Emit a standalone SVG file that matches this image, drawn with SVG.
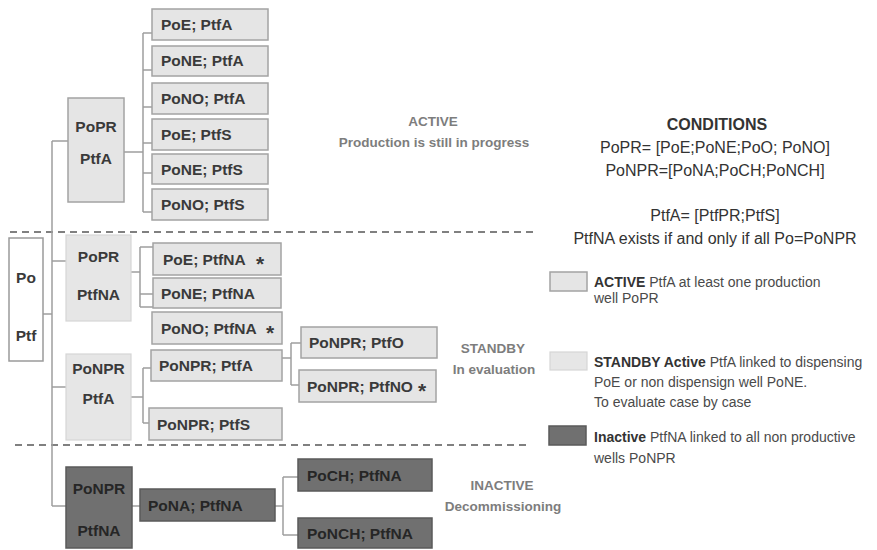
<svg xmlns="http://www.w3.org/2000/svg" width="877" height="550" viewBox="0 0 877 550">
<style>
.bg{fill:#ffffff}
.lt{fill:#e5e5e5;stroke:#a3a3a3;stroke-width:1.5}
.lt2{fill:#e6e6e6;stroke:#d6d6d6;stroke-width:1.2}
.dk{fill:#707070;stroke:#5a5a5a;stroke-width:1.5}
.wh{fill:#ffffff;stroke:#9a9a9a;stroke-width:1.5}
.t{font-family:"Liberation Sans",Arial,sans-serif;font-weight:bold;font-size:15.5px;fill:#3a3a3a}
.td{font-family:"Liberation Sans",Arial,sans-serif;font-weight:bold;font-size:15.5px;fill:#262626}
.tc{text-anchor:middle}
.ast{font-size:21px}
.sec{font-family:"Liberation Sans",Arial,sans-serif;font-weight:bold;font-size:13.5px;fill:#7d7d7d;text-anchor:middle}
.cond{font-family:"Liberation Sans",Arial,sans-serif;font-size:16px;fill:#333;text-anchor:middle}
.leg{font-family:"Liberation Sans",Arial,sans-serif;font-size:14px;fill:#4a4a4a}
.b{font-weight:bold;fill:#333}
.con{fill:none;stroke:#9e9e9e;stroke-width:1.5}
.dash{fill:none;stroke:#808080;stroke-width:2;stroke-dasharray:7 5}
</style>
<rect class="bg" x="0" y="0" width="877" height="550"/>

<g id="separators">
<line class="dash" x1="10" y1="232" x2="533" y2="232"/>
<line class="dash" x1="15" y1="445" x2="529" y2="445"/>
</g>

<g id="connectors">
<path class="con" d="M52 141V506M52 141H68M43 314H52M52 261H66M52 387H66M52 506H66"/>
<path class="con" d="M124 152H143M143 33V212M143 33H152M143 70H152M143 107H152M143 143H152M143 173H152M143 212H152"/>
<path class="con" d="M131 272H140M140 247V307M140 247H153M140 294H153M140 307H153"/>
<path class="con" d="M131 397H143M143 368V423M143 368H151M143 423H149"/>
<path class="con" d="M282 358H291M291 343V385M291 343H301M291 385H299"/>
<path class="con" d="M132 506H140M275 506H283M283 477V535M283 477H298M283 535H298"/>
</g>

<g id="root">
<rect class="wh" x="9" y="238" width="34" height="123"/>
<text class="t tc" x="26" y="283">Po</text>
<text class="t tc" x="26" y="341">Ptf</text>
</g>

<g id="popr-ptfa">
<rect class="lt" x="68" y="98" width="56" height="104"/>
<text class="t tc" x="96" y="132">PoPR</text>
<text class="t tc" x="96" y="164">PtfA</text>
</g>
<g id="poe-ptfa"><rect class="lt" x="152" y="9" width="116" height="31"/><text class="t" x="161" y="30">PoE; PtfA</text></g>
<g id="pone-ptfa"><rect class="lt" x="152" y="46" width="116" height="30"/><text class="t" x="161" y="66">PoNE; PtfA</text></g>
<g id="pono-ptfa"><rect class="lt" x="152" y="83" width="116" height="31"/><text class="t" x="161" y="104">PoNO; PtfA</text></g>
<g id="poe-ptfs"><rect class="lt" x="152" y="119" width="116" height="31"/><text class="t" x="161" y="140">PoE; PtfS</text></g>
<g id="pone-ptfs"><rect class="lt" x="152" y="154" width="116" height="30"/><text class="t" x="161" y="175">PoNE; PtfS</text></g>
<g id="pono-ptfs"><rect class="lt" x="152" y="189" width="116" height="31"/><text class="t" x="161" y="210">PoNO; PtfS</text></g>

<g id="popr-ptfna">
<rect class="lt2" x="66" y="235" width="65" height="86"/>
<text class="t tc" x="98.5" y="262">PoPR</text>
<text class="t tc" x="98.5" y="300">PtfNA</text>
</g>
<g id="poe-ptfna"><rect class="lt" x="153" y="243" width="128" height="32"/><text class="t" x="163" y="265">PoE; PtfNA<tspan class="ast" x="256" dy="6">*</tspan></text></g>
<g id="pone-ptfna"><rect class="lt" x="153" y="278" width="128" height="30"/><text class="t" x="161" y="299">PoNE; PtfNA</text></g>
<g id="pono-ptfna"><rect class="lt" x="152" y="312" width="130" height="32"/><text class="t" x="161" y="334">PoNO; PtfNA<tspan class="ast" x="266" dy="6">*</tspan></text></g>

<g id="ponpr-ptfa">
<rect class="lt2" x="66" y="354" width="65" height="86"/>
<text class="t tc" x="98.5" y="374">PoNPR</text>
<text class="t tc" x="98.5" y="404">PtfA</text>
</g>
<g id="ponpr-ptfa-2"><rect class="lt" x="151" y="350" width="131" height="31"/><text class="t" x="159" y="371">PoNPR; PtfA</text></g>
<g id="ponpr-ptfs"><rect class="lt" x="149" y="408" width="133" height="32"/><text class="t" x="157" y="430">PoNPR; PtfS</text></g>
<g id="ponpr-ptfo"><rect class="lt" x="301" y="327" width="136" height="31"/><text class="t" x="309" y="348">PoNPR; PtfO</text></g>
<g id="ponpr-ptfno"><rect class="lt" x="299" y="370" width="137" height="32"/><text class="t" x="307" y="392">PoNPR; PtfNO<tspan class="ast" x="418" dy="6">*</tspan></text></g>

<g id="ponpr-ptfna">
<rect class="dk" x="66" y="467" width="66" height="81"/>
<text class="td tc" x="99" y="494">PoNPR</text>
<text class="td tc" x="99" y="536">PtfNA</text>
</g>
<g id="pona-ptfna"><rect class="dk" x="140" y="489" width="135" height="32"/><text class="td" x="148" y="511">PoNA; PtfNA</text></g>
<g id="poch-ptfna"><rect class="dk" x="298" y="459" width="134" height="32"/><text class="td" x="307" y="481">PoCH; PtfNA</text></g>
<g id="ponch-ptfna"><rect class="dk" x="298" y="518" width="134" height="30"/><text class="td" x="307" y="539">PoNCH; PtfNA</text></g>

<g id="labels">
<text class="sec" x="433" y="126">ACTIVE</text>
<text class="sec" x="434" y="147">Production  is still in progress</text>
<text class="sec" x="493" y="353">STANDBY</text>
<text class="sec" x="494" y="374">In evaluation</text>
<text class="sec" x="502" y="490">INACTIVE</text>
<text class="sec" x="503" y="511">Decommissioning</text>
</g>

<g id="conditions">
<text class="cond" x="717" y="129.5" font-weight="bold">CONDITIONS</text>
<text class="cond" x="715" y="153">PoPR= [PoE;PoNE;PoO; PoNO]</text>
<text class="cond" x="715" y="175.5">PoNPR=[PoNA;PoCH;PoNCH]</text>
<text class="cond" x="715" y="221">PtfA= [PtfPR;PtfS]</text>
<text class="cond" x="715" y="244">PtfNA exists if and only if all Po=PoNPR</text>
</g>

<g id="legend">
<rect class="lt" x="550" y="272" width="37" height="19"/>
<text class="leg" x="594" y="287"><tspan class="b">ACTIVE</tspan> PtfA at least one production</text>
<text class="leg" x="594" y="303">well PoPR</text>
<rect class="lt2" x="550" y="352" width="37" height="18"/>
<text class="leg" x="594" y="367"><tspan class="b">STANDBY Active</tspan> PtfA linked to dispensing</text>
<text class="leg" x="594" y="387">PoE or non dispensign well PoNE.</text>
<text class="leg" x="594" y="407">To evaluate case by case</text>
<rect class="dk" x="549" y="426" width="37" height="19"/>
<text class="leg" x="594" y="442"><tspan class="b">Inactive</tspan> PtfNA linked to all non productive</text>
<text class="leg" x="594" y="463">wells PoNPR</text>
</g>
</svg>
